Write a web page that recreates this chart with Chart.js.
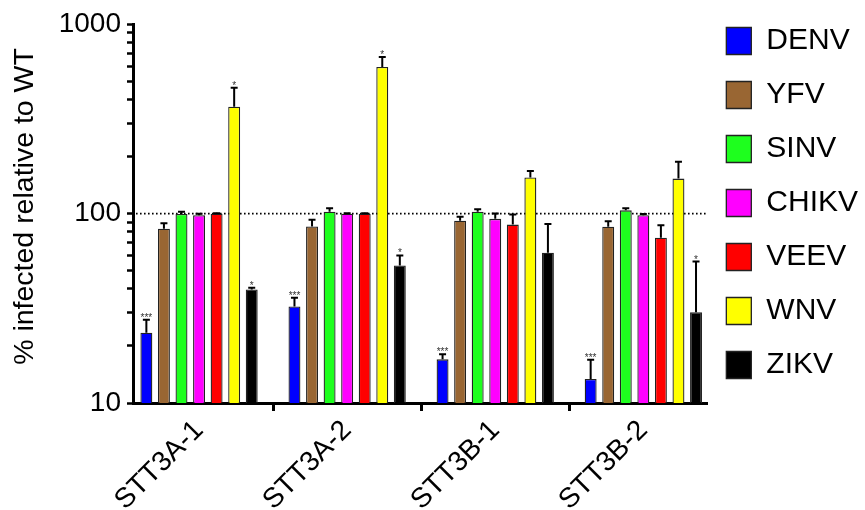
<!DOCTYPE html>
<html><head><meta charset="utf-8">
<script src="https://cdn.jsdelivr.net/npm/chart.js@4/dist/chart.umd.min.js"></script>
<style>html,body{margin:0;padding:0;background:#fff}#wrap{width:865px;height:510px;position:relative}</style>
</head><body><div id="wrap"><canvas id="c"></canvas></div>
<script>
// ---- data ----
const categories = ['STT3A-1', 'STT3A-2', 'STT3B-1', 'STT3B-2'];
const seriesNames = ['DENV', 'YFV', 'SINV', 'CHIKV', 'VEEV', 'WNV', 'ZIKV'];
const seriesColors = ['#0000ff', '#996633', '#1eff1e', '#ff00ff', '#ff0000', '#ffff00', '#000000'];
const DENV  = [23.5, 32.3, 17.0, 13.4];
const YFV   = [83.2, 85.5, 91.6, 85.2];
const SINV  = [99.6, 102.4, 102.4, 104];
const CHIKV = [98, 99.8, 93.8, 98];
const VEEV  = [99.8, 99.8, 87.5, 74.6];
const WNV   = [367, 595, 155, 153];
const ZIKV  = [39.8, 53.2, 62.2, 30.1];
const DENV_err  = [4.0, 3.7, 1.1, 3.5];
const YFV_err   = [5.8, 7.2, 4.5, 5.9];
const SINV_err  = [2.8, 4.2, 3.0, 2.6];
const CHIKV_err = [1.8, 0.5, 6.2, 1.5];
const VEEV_err  = [0.6, 0.5, 11.3, 12.3];
const WNV_err   = [95, 77, 13, 35];
const ZIKV_err  = [0.8, 6.9, 26, 25.7];
const DENV_sig  = ['***', '***', '***', '***'];
const YFV_sig   = ['', '', '', ''];
const SINV_sig  = ['', '', '', ''];
const CHIKV_sig = ['', '', '', ''];
const VEEV_sig  = ['', '', '', ''];
const WNV_sig   = ['*', '*', '', ''];
const ZIKV_sig  = ['*', '*', '', '*'];
const yLabelTicks = [10, 100, 1000];
const yAllTicks = [10,20,30,40,50,60,70,80,90,100,200,300,400,500,600,700,800,900,1000];
const referenceValue = 100;
const yTitle = '% infected relative to WT';

const values = [DENV, YFV, SINV, CHIKV, VEEV, WNV, ZIKV];
const errors = [DENV_err, YFV_err, SINV_err, CHIKV_err, VEEV_err, WNV_err, ZIKV_err];
const sigs = [DENV_sig, YFV_sig, SINV_sig, CHIKV_sig, VEEV_sig, WNV_sig, ZIKV_sig];

const FONT = '"Liberation Sans", Arial, Helvetica, sans-serif';

const datasets = seriesNames.map((name, k) => ({
  label: name,
  data: values[k].map((v, i) => ({x: i, y: v})),
  backgroundColor: seriesColors[k],
  borderColor: '#222',
  borderWidth: 1.3,
  categoryPercentage: 0.83,
  barPercentage: 0.68,
  errs: errors[k],
  sigs: sigs[k]
}));

const extras = {
  id: 'extras',
  afterLayout(chart) {
    if (chart.legend) { chart.legend.left -= 5; chart.legend.right -= 5; }
  },
  beforeDatasetsDraw(chart) {
    const {ctx, chartArea, scales} = chart;
    const y = scales.y.getPixelForValue(referenceValue);
    ctx.save();
    ctx.strokeStyle = '#000';
    ctx.lineWidth = 1.6;
    ctx.setLineDash([1.6, 2.4]);
    ctx.beginPath();
    ctx.moveTo(chartArea.left + 3, y);
    ctx.lineTo(chartArea.right, y);
    ctx.stroke();
    ctx.restore();
  },
  afterDatasetsDraw(chart) {
    const {ctx, scales} = chart;
    ctx.save();
    chart.data.datasets.forEach((ds, k) => {
      const meta = chart.getDatasetMeta(k);
      meta.data.forEach((bar, i) => {
        const v = ds.data[i].y;
        const e = ds.errs[i];
        const yTop = scales.y.getPixelForValue(v + e);
        ctx.strokeStyle = '#000';
        ctx.lineWidth = 2;
        ctx.setLineDash([]);
        ctx.beginPath();
        ctx.moveTo(bar.x, bar.y);
        ctx.lineTo(bar.x, yTop);
        ctx.moveTo(bar.x - 3.5, yTop);
        ctx.lineTo(bar.x + 3.5, yTop);
        ctx.stroke();
        const s = ds.sigs[i];
        if (s) {
          ctx.fillStyle = '#333';
          ctx.font = '10px ' + FONT;
          ctx.textAlign = 'center';
          ctx.textBaseline = 'alphabetic';
          ctx.fillText(s, bar.x, yTop + 1);
        }
      });
    });
    ctx.restore();
  }
};

new Chart(document.getElementById('c'), {
  type: 'bar',
  data: {datasets},
  options: {
    responsive: true,
    maintainAspectRatio: false,
    animation: false,
    devicePixelRatio: 1,
    layout: {padding: {top: 2, right: -8, bottom: 0, left: 0}},
    plugins: {
      tooltip: {enabled: false},
      legend: {
        position: 'right',
        align: 'start',
        labels: {
          boxWidth: 25,
          boxHeight: 27,
          padding: 24,
          color: '#000',
          font: {family: FONT, size: 30}
        }
      }
    },
    scales: {
      x: {
        type: 'linear',
        min: -0.446,
        max: 3.432,
        offset: false,
        afterBuildTicks(scale) { scale.ticks = categories.map((c, i) => ({value: i})); },
        afterFit(scale) { scale.height = 107; },
        ticks: {
          callback: (v) => categories[v],
          minRotation: 45,
          maxRotation: 45,
          color: '#000',
          padding: 3,
          font: {family: FONT, size: 28}
        },
        grid: {display: true, drawOnChartArea: false, drawTicks: true, tickLength: 8, tickWidth: 3, tickColor: '#000'},
        border: {display: true, color: '#000', width: 3}
      },
      y: {
        type: 'logarithmic',
        min: 10,
        max: 1000,
        afterBuildTicks(scale) { scale.ticks = yAllTicks.map(v => ({value: v})); },
        afterFit(scale) { scale.width = 133; },
        ticks: {
          autoSkip: false,
          callback: (v) => yLabelTicks.includes(v) ? String(v) : '',
          color: '#000',
          padding: 6,
          font: {family: FONT, size: 28, lineHeight: 1.3}
        },
        grid: {display: true, drawOnChartArea: false, drawTicks: true, tickLength: 6, tickWidth: 2.5, tickColor: '#000'},
        border: {display: true, color: '#000', width: 3},
        title: {
          display: true,
          text: '\u2002' + yTitle,
          color: '#000',
          padding: {top: 8, bottom: 0},
          font: {family: FONT, size: 28.5}
        }
      }
    }
  },
  plugins: [extras]
});
</script>
</body></html>
